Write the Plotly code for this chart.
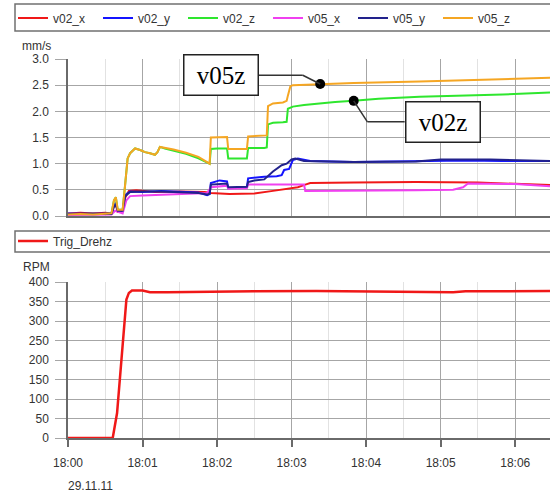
import numpy as np
import pandas as pd
import plotly.graph_objects as go

BASE = pd.Timestamp("2011-11-29 18:00:00")
END_S = 388

# ---- data (seconds after 18:00:00, values) ----
v02_x_t = [0, 10, 20, 30, 35, 37, 38.5, 40, 44, 46, 49, 55, 70, 90, 110, 115, 130, 150, 165, 175, 185, 191, 195, 230, 280, 330, 360, 388]
v02_x_v = [0.05, 0.06, 0.05, 0.06, 0.05, 0.2, 0.22, 0.08, 0.1, 0.35, 0.48, 0.49, 0.46, 0.47, 0.46, 0.44, 0.42, 0.43, 0.48, 0.52, 0.55, 0.6, 0.63, 0.64, 0.65, 0.64, 0.62, 0.59]

v02_y_t = [0, 20, 35, 37, 38.5, 40, 44, 46, 50, 60, 75, 90, 105, 112, 114, 115, 122, 128, 129, 144, 145, 158, 168, 172, 174, 178, 181, 185, 195, 230, 280, 320, 350, 388]
v02_y_v = [0.05, 0.04, 0.05, 0.2, 0.25, 0.1, 0.1, 0.4, 0.47, 0.46, 0.48, 0.47, 0.45, 0.4, 0.42, 0.63, 0.68, 0.66, 0.53, 0.55, 0.72, 0.75, 0.76, 0.78, 0.88, 0.9, 1.07, 1.1, 1.05, 1.03, 1.04, 1.06, 1.05, 1.05]

v02_z_t = [0, 10, 20, 30, 35, 37, 38.5, 40, 44, 46, 48, 50, 54, 58, 62, 66, 70, 72, 74, 78, 85, 95, 105, 113, 114, 115, 120, 128, 129, 144, 145, 158, 160, 161, 165, 173, 176, 177, 181, 190, 203, 215, 230, 250, 283, 320, 350, 388]
v02_z_v = [0.03, 0.04, 0.03, 0.04, 0.05, 0.3, 0.36, 0.12, 0.12, 0.6, 1.1, 1.2, 1.29, 1.26, 1.22, 1.2, 1.17, 1.22, 1.32, 1.29, 1.25, 1.19, 1.1, 1.0, 1.0, 1.28, 1.29, 1.29, 1.1, 1.1, 1.3, 1.3, 1.31, 1.75, 1.78, 1.79, 1.8, 2.05, 2.09, 2.12, 2.15, 2.18, 2.2, 2.24, 2.28, 2.3, 2.32, 2.36]

v05_x_t = [0, 35, 38, 44, 47, 50, 60, 80, 100, 112, 115, 128, 129, 144, 145, 160, 175, 190, 191, 230, 280, 310, 318, 322, 360, 388]
v05_x_v = [0.02, 0.03, 0.1, 0.05, 0.3, 0.38, 0.39, 0.41, 0.43, 0.44, 0.55, 0.58, 0.52, 0.53, 0.6, 0.6, 0.6, 0.6, 0.48, 0.48, 0.49, 0.5, 0.55, 0.62, 0.61, 0.57]

v05_y_t = [0, 20, 35, 37, 38.5, 40, 44, 46, 50, 60, 75, 90, 105, 112, 114, 115, 128, 129, 144, 145, 150, 158, 165, 172, 176, 180, 183, 190, 230, 280, 300, 340, 388]
v05_y_v = [0.04, 0.05, 0.04, 0.18, 0.22, 0.1, 0.1, 0.38, 0.46, 0.47, 0.47, 0.46, 0.44, 0.41, 0.42, 0.6, 0.62, 0.55, 0.56, 0.65, 0.68, 0.7, 0.85, 0.97, 1.0, 1.08, 1.1, 1.05, 1.03, 1.04, 1.08, 1.08, 1.05]

v05_z_t = [0, 10, 20, 30, 35, 37, 38.5, 40, 44, 46, 48, 50, 54, 58, 62, 66, 70, 72, 74, 85, 95, 105, 113, 114, 115, 128, 129, 144, 145, 158, 160, 161, 165, 173, 176, 177, 179, 181, 200, 230, 283, 330, 388]
v05_z_v = [0.03, 0.04, 0.03, 0.04, 0.05, 0.3, 0.36, 0.12, 0.12, 0.6, 1.1, 1.2, 1.29, 1.26, 1.22, 1.2, 1.17, 1.22, 1.32, 1.27, 1.21, 1.13, 1.02, 1.0, 1.5, 1.51, 1.28, 1.28, 1.52, 1.53, 1.54, 2.1, 2.15, 2.17, 2.2, 2.3, 2.48, 2.5, 2.52, 2.54, 2.57, 2.6, 2.64]

rpm_t = [0, 36, 39.5, 43, 47, 49, 51.5, 60, 66, 80, 100, 150, 200, 260, 300, 310, 320, 388]
rpm_v = [0, 0, 64, 200, 355, 372, 378, 378, 374, 374, 375, 376, 377, 376, 376, 374, 376, 377]

series = [
    ("v02_x", v02_x_t, v02_x_v, "#f01818"),
    ("v02_y", v02_y_t, v02_y_v, "#1414ff"),
    ("v02_z", v02_z_t, v02_z_v, "#2ee62e"),
    ("v05_x", v05_x_t, v05_x_v, "#f040f0"),
    ("v05_y", v05_y_t, v05_y_v, "#22228c"),
    ("v05_z", v05_z_t, v05_z_v, "#f5a623"),
]

def tx(secs):
    return [BASE + pd.Timedelta(seconds=float(s)) for s in secs]

W, H = 550, 493
def py(p):
    return 1 - p / H

fig = go.Figure()
for name, t, v, c in series:
    fig.add_trace(go.Scatter(x=tx(t), y=v, name=name, mode="lines",
                             line=dict(color=c, width=2), xaxis="x", yaxis="y",
                             legend="legend"))

fig.add_trace(go.Scatter(x=tx(rpm_t), y=rpm_v, name="Trig_Drehz", mode="lines",
                         line=dict(color="#f01818", width=2.5), xaxis="x2", yaxis="y2",
                         legend="legend2"))

# callout markers (values taken from the series)
dot_t = [203, 230]
dot_v = [float(np.interp(203, v05_z_t, v05_z_v)), float(np.interp(230, v02_z_t, v02_z_v))]
fig.add_trace(go.Scatter(x=tx(dot_t), y=dot_v, mode="markers", showlegend=False,
                         marker=dict(color="black", size=10), xaxis="x", yaxis="y"))

grid_major = "#a6a6a6"
grid_minor = "#e2e2e2"
axis_line = "#6a6a6a"
font_c = "#333333"
xdom = [68 / W, 1]
xrange_ = [BASE, BASE + pd.Timedelta(seconds=END_S)]

xcommon = dict(type="date", range=xrange_, domain=xdom, dtick=60000, tick0=BASE,
               tickformat="%H:%M", showgrid=True, gridcolor=grid_major, gridwidth=1,
               minor=dict(dtick=30000, tick0=BASE, showgrid=True, gridcolor=grid_minor, gridwidth=1),
               showline=True, linecolor=axis_line, linewidth=1.5, zeroline=False,
               automargin=False, tickfont=dict(size=12, color=font_c))

ycommon = dict(showgrid=True, gridcolor=grid_major, ticks="outside", ticklen=11,
               tickcolor=grid_major, showline=True, linecolor=axis_line, linewidth=1.5,
               zeroline=False, automargin=False, ticklabelstandoff=4,
               tickfont=dict(size=12, color=font_c))

fig.update_layout(
    width=W, height=H,
    margin=dict(l=0, r=0, t=0, b=0, autoexpand=False),
    paper_bgcolor="white", plot_bgcolor="white",
    font=dict(family="Liberation Sans, Arial, sans-serif", size=12, color=font_c),
    xaxis=dict(**xcommon, anchor="y", showticklabels=False, ticks=""),
    yaxis=dict(**ycommon, domain=[py(216), py(59)], range=[0, 3], dtick=0.5, tick0=0,
               tickformat=".1f", anchor="x"),
    xaxis2=dict(**xcommon, anchor="y2", ticks="outside", ticklen=7, tickcolor=axis_line,
                tickwidth=1.5, ticklabelstandoff=6),
    yaxis2=dict(**ycommon, domain=[py(438), py(282)], range=[0, 400], dtick=50, tick0=0,
                anchor="x2"),
    legend=dict(orientation="h", x=13 / W, xanchor="left", y=py(18), yanchor="middle",
                entrywidth=40, entrywidthmode="pixels", bgcolor="rgba(0,0,0,0)",
                borderwidth=0, font=dict(size=12, color=font_c)),
    legend2=dict(orientation="h", x=13 / W, xanchor="left", y=py(241), yanchor="middle",
                 bgcolor="rgba(0,0,0,0)", borderwidth=0,
                 font=dict(size=12, color=font_c)),
    showlegend=True,
)

shapes = [
    dict(type="rect", xref="paper", yref="paper", x0=15 / W, x1=1.02, y0=py(31), y1=py(4),
         line=dict(color="#707070", width=1.5), fillcolor="rgba(0,0,0,0)", layer="below"),
    dict(type="rect", xref="paper", yref="paper", x0=15 / W, x1=1.02, y0=py(252), y1=py(231),
         line=dict(color="#707070", width=1.5), fillcolor="rgba(0,0,0,0)", layer="below"),
    # connector v05z
    dict(type="line", xref="x", yref="y", x0=tx([153])[0], y0=2.69, x1=tx([189])[0], y1=2.69,
         line=dict(color="#333333", width=1.5)),
    dict(type="line", xref="x", yref="y", x0=tx([189])[0], y0=2.69, x1=tx([203])[0], y1=dot_v[0],
         line=dict(color="#333333", width=1.5)),
    # connector v02z
    dict(type="line", xref="x", yref="y", x0=tx([230])[0], y0=dot_v[1], x1=tx([241])[0], y1=1.80,
         line=dict(color="#333333", width=1.5)),
    dict(type="line", xref="x", yref="y", x0=tx([241])[0], y0=1.80, x1=tx([271])[0], y1=1.80,
         line=dict(color="#333333", width=1.5)),
]
fig.update_layout(shapes=shapes)

box = dict(showarrow=False, xref="x", yref="y", bgcolor="white", bordercolor="#222222",
           borderwidth=1.5, borderpad=1, width=71, height=37,
           font=dict(family="Liberation Serif, Times New Roman, serif", size=25, color="black"))
annotations = [
    dict(text="v05z", x=tx([123])[0], y=2.69, **box),
    dict(text="v02z", x=tx([302])[0], y=1.80, **box),
    dict(text="mm/s", xref="paper", yref="paper", x=20 / W, y=py(46), xanchor="left",
         yanchor="middle", showarrow=False, font=dict(size=12, color=font_c)),
    dict(text="RPM", xref="paper", yref="paper", x=21 / W, y=py(267), xanchor="left",
         yanchor="middle", showarrow=False, font=dict(size=12, color=font_c)),
    dict(text="29.11.11", xref="paper", yref="paper", x=66 / W, y=py(486), xanchor="left",
         yanchor="middle", showarrow=False, font=dict(size=12, color=font_c)),
]
fig.update_layout(annotations=annotations)

fig.write_html("out.html", config={"displayModeBar": False},
               post_script="document.body.style.margin='0';document.body.style.overflow='hidden';")
